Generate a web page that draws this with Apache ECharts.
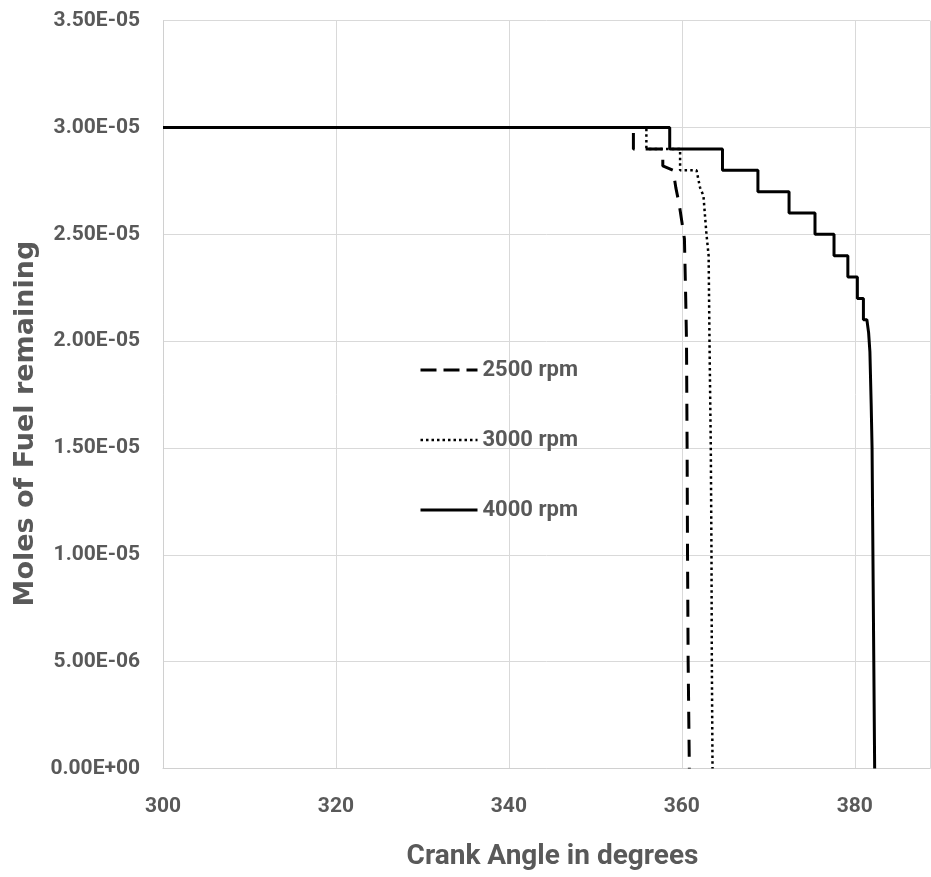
<!DOCTYPE html>
<html>
<head>
<meta charset="utf-8">
<script src="https://cdn.jsdelivr.net/npm/echarts@6/dist/echarts.min.js"></script>
<style>
html,body{margin:0;padding:0;background:#fff;}
#chart{width:931px;height:877px;}
</style>
</head>
<body>
<div id="chart"></div>
<script>
// Crank angle (degrees) and moles of fuel remaining
var seriesNames = ['2500 rpm', '3000 rpm', '4000 rpm'];

var angle2500 = [300, 354.4, 354.4, 357.8, 357.8, 359.0, 359.3, 359.7, 360.0, 360.3, 360.45, 360.54, 360.61, 360.66, 360.73, 360.87];
var fuel2500  = [3.0e-5, 3.0e-5, 2.9e-5, 2.9e-5, 2.82e-5, 2.8e-5, 2.72e-5, 2.64e-5, 2.56e-5, 2.48e-5, 2.2e-5, 2.0e-5, 1.5e-5, 1.0e-5, 0.5e-5, 0];

var angle3000 = [300, 355.9, 355.9, 359.8, 359.8, 361.7, 362.1, 362.5, 362.85, 363.1, 363.2, 363.35, 363.43, 363.47, 363.55];
var fuel3000  = [3.0e-5, 3.0e-5, 2.9e-5, 2.9e-5, 2.8e-5, 2.8e-5, 2.72e-5, 2.68e-5, 2.5e-5, 2.4e-5, 2.0e-5, 1.5e-5, 1.0e-5, 0.5e-5, 0];

var angle4000 = [300, 358.6, 358.6, 364.7, 364.7, 368.8, 368.8, 372.4, 372.4, 375.4, 375.4, 377.6, 377.6, 379.2, 379.2, 380.3, 380.3, 381.0, 381.0, 381.4, 381.6, 381.75, 381.9, 382.0, 382.1, 382.2, 382.3];
var fuel4000  = [3.0e-5, 3.0e-5, 2.9e-5, 2.9e-5, 2.8e-5, 2.8e-5, 2.7e-5, 2.7e-5, 2.6e-5, 2.6e-5, 2.5e-5, 2.5e-5, 2.4e-5, 2.4e-5, 2.3e-5, 2.3e-5, 2.2e-5, 2.2e-5, 2.1e-5, 2.1e-5, 2.04e-5, 1.95e-5, 1.7e-5, 1.5e-5, 1.0e-5, 0.5e-5, 0];

var xTicks = [300, 320, 340, 360, 380];

function zip(xs, ys) { return xs.map(function (x, i) { return [x, ys[i]]; }); }

function sci(v) {
  if (Math.abs(v) < 1e-12) return '0.00E+00';
  var s = v.toExponential(2).toUpperCase();
  var parts = s.split('E');
  var exp = parseInt(parts[1], 10);
  var sign = exp < 0 ? '-' : '+';
  var e = Math.abs(exp);
  return parts[0] + 'E' + sign + (e < 10 ? '0' + e : '' + e);
}

var GRAY = '#595959';
var NUMFONT = 'Roboto, "DejaVu Sans Condensed", sans-serif';
var CLEAR = 'rgba(0,0,0,0)';

var chart = echarts.init(document.getElementById('chart'), null, { renderer: 'canvas' });

chart.setOption({
  animation: false,
  backgroundColor: '#ffffff',
  grid: { left: 163, right: 1, top: 20.7, bottom: 108.5, containLabel: false, outerBoundsMode: 'none' },
  legend: {
    orient: 'vertical',
    left: 414,
    top: 354,
    itemWidth: 57,
    itemHeight: 14,
    itemGap: 48,
    textStyle: { color: GRAY, fontFamily: NUMFONT, fontWeight: 'bold', fontSize: 22, lineHeight: 22 },
    data: [
      { name: '2500 rpm', itemStyle: { color: CLEAR, borderWidth: 0 }, lineStyle: { color: '#000', width: 3, type: [16, 7] } },
      { name: '3000 rpm', itemStyle: { color: CLEAR, borderWidth: 0 }, lineStyle: { color: '#000', width: 2.5, type: [2.5, 3] } },
      { name: '4000 rpm', itemStyle: { color: CLEAR, borderWidth: 0 }, lineStyle: { color: '#000', width: 3, type: 'solid' } }
    ]
  },
  xAxis: {
    type: 'value',
    min: 300,
    max: 388.7,
    interval: 20,
    name: 'Crank Angle in degrees',
    nameLocation: 'middle',
    nameGap: 74,
    nameTextStyle: { color: GRAY, fontFamily: NUMFONT, fontWeight: 'bold', fontSize: 28, padding: [0, 0, 0, 12] },
    axisLine: { show: true, lineStyle: { color: '#d0d0d0', width: 1 } },
    axisTick: { show: false },
    axisLabel: {
      color: GRAY, fontFamily: NUMFONT, fontWeight: 'bold', fontSize: 21, margin: 28,
      formatter: function (v) { return xTicks.indexOf(Math.round(v * 1000) / 1000) >= 0 ? String(v) : ''; }
    },
    splitLine: { show: true, lineStyle: { color: '#d9d9d9', width: 1 } }
  },
  yAxis: {
    type: 'value',
    min: 0,
    max: 3.5e-5,
    interval: 5e-6,
    name: 'Moles of Fuel remaining',
    nameLocation: 'middle',
    nameRotate: 90,
    nameGap: 91,
    nameTextStyle: { color: GRAY, fontFamily: '"DejaVu Sans", sans-serif', fontWeight: 'bold', fontSize: 27, padding: [0, 58, 0, 0] },
    axisLine: { show: true, lineStyle: { color: '#d0d0d0', width: 1 } },
    axisTick: { show: false },
    axisLabel: { color: GRAY, fontFamily: NUMFONT, fontWeight: 'bold', fontSize: 21, margin: 23, formatter: sci },
    splitLine: { show: true, lineStyle: { color: '#d9d9d9', width: 1 } }
  },
  series: [
    {
      name: '2500 rpm', type: 'line', data: zip(angle2500, fuel2500), symbol: 'none', z: 3,
      itemStyle: { color: '#000' },
      lineStyle: { color: '#000', width: 3, type: [17, 11] }
    },
    {
      name: '3000 rpm', type: 'line', data: zip(angle3000, fuel3000), symbol: 'none', z: 3,
      itemStyle: { color: '#000' },
      lineStyle: { color: '#000', width: 2.5, type: [2.5, 3.2] }
    },
    {
      name: '4000 rpm', type: 'line', data: zip(angle4000, fuel4000), symbol: 'none', z: 2,
      itemStyle: { color: '#000' },
      lineStyle: { color: '#000', width: 3, type: 'solid' }
    }
  ]
});
</script>
</body>
</html>
